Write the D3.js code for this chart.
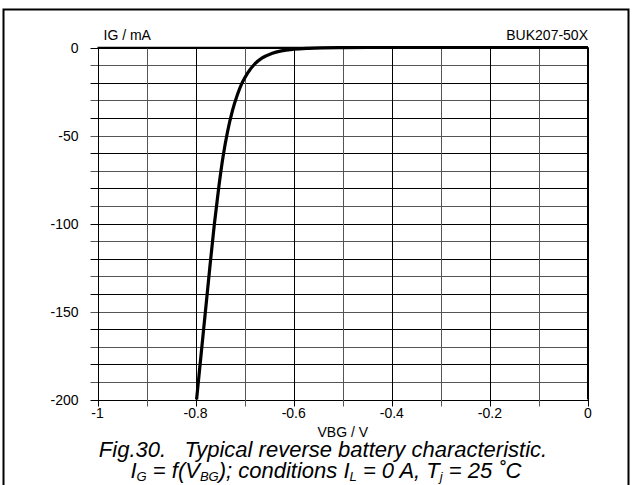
<!DOCTYPE html>
<html><head><meta charset="utf-8">
<script src="https://cdn.jsdelivr.net/npm/d3@7"></script>
<style>body{margin:0;background:#fff}svg{display:block}text{font-family:"Liberation Sans",Arial,sans-serif;fill:#000}</style>
</head><body>
<script>
const vbg = [-0.798,-0.789,-0.780,-0.771,-0.762,-0.753,-0.744,-0.735,-0.725,-0.715,-0.705,-0.694,-0.680,-0.665,-0.645,-0.625,-0.600,-0.570,-0.540,-0.500,-0.450,-0.400,-0.300,-0.200,-0.100,0];
const ig  = [-200,-175,-150,-125,-101,-80,-62,-48,-36,-27,-20,-14.5,-9.5,-6,-3.4,-1.9,-1.0,-0.5,-0.25,-0.1,0,0,0,0,0,0];
const xTicks = [-1,-0.8,-0.6,-0.4,-0.2,0];
const yTicks = [0,-50,-100,-150,-200];
const xGrid = d3.range(0,11).map(i=>-1+i*0.1);
const yGrid = d3.range(0,21).map(i=>-i*10);

const W=632,H=485;
const svg=d3.select("body").append("svg").attr("width",W).attr("height",H);
const L=97.5,R=588,T=47.5,B=399.5;
const x=d3.scaleLinear().domain([-1,0]).range([L,R]);
const y=d3.scaleLinear().domain([0,-200]).range([T,B]);

// frame
svg.append("path").attr("d",`M3.5,${H+5}V9.5H628.5V${H+5}`).attr("fill","none").attr("stroke","#000").attr("stroke-width",2);

// grid
const g=svg.append("g");
g.selectAll(".hg").data(yGrid).join("line").attr("x1",L-7).attr("x2",R).attr("y1",d=>Math.round(y(d))+0.5).attr("y2",d=>Math.round(y(d))+0.5).attr("stroke",(d,i)=>i%2?"#555":"#000").attr("stroke-width",1);
g.selectAll(".vg").data(xGrid).join("line").attr("y1",T).attr("y2",B+7).attr("x1",d=>Math.round(x(d))+0.5).attr("x2",d=>Math.round(x(d))+0.5).attr("stroke",(d,i)=>i%2?"#555":"#000").attr("stroke-width",1);
svg.append("line").attr("x1",R).attr("x2",R).attr("y1",T).attr("y2",B).attr("stroke","#000").attr("stroke-width",2);
svg.append("line").attr("x1",L).attr("x2",R).attr("y1",T).attr("y2",T).attr("stroke","#000").attr("stroke-width",1.5);

// tick labels
svg.selectAll(".yl").data(yTicks).join("text").attr("x",L-19).attr("y",d=>y(d)+5).attr("text-anchor","end").attr("font-size",14).text(d=>d);
svg.selectAll(".xl").data(xTicks).join("text").attr("x",d=>x(d)).attr("y",B+18).attr("text-anchor","middle").attr("font-size",14).text(d=>d);

svg.append("text").attr("x",L+6).attr("y",T-8).attr("font-size",14).text("IG / mA");
svg.append("text").attr("x",R).attr("y",T-8).attr("text-anchor","end").attr("font-size",14).text("BUK207-50X");
svg.append("text").attr("x",(L+R)/2).attr("y",B+37).attr("text-anchor","middle").attr("font-size",14).text("VBG / V");

// curve
const line=d3.line().x((d,i)=>x(vbg[i])).y(d=>y(d)).curve(d3.curveMonotoneX);
svg.append("path").attr("d",line(ig)).attr("fill","none").attr("stroke","#000").attr("stroke-width",3.2);

// caption
const c1=svg.append("text").attr("x",323).attr("y",457).attr("text-anchor","middle").attr("font-size",22).attr("font-style","italic");
c1.text("Fig.30.\u00a0\u00a0 Typical reverse battery characteristic.");
const c2=svg.append("text").attr("x",326).attr("y",478).attr("text-anchor","middle").attr("font-size",22).attr("font-style","italic");
c2.append("tspan").text("I");
c2.append("tspan").attr("font-size",13).attr("dy",3).text("G");
c2.append("tspan").attr("dy",-3).text(" = f(V");
c2.append("tspan").attr("font-size",13).attr("dy",3).text("BG");
c2.append("tspan").attr("dy",-3).text("); conditions I");
c2.append("tspan").attr("font-size",13).attr("dy",3).text("L");
c2.append("tspan").attr("dy",-3).text(" = 0 A, T");
c2.append("tspan").attr("font-size",13).attr("dy",3).text("j");
c2.append("tspan").attr("dy",-3).text(" = 25 \u02daC");
</script>
</body></html>
